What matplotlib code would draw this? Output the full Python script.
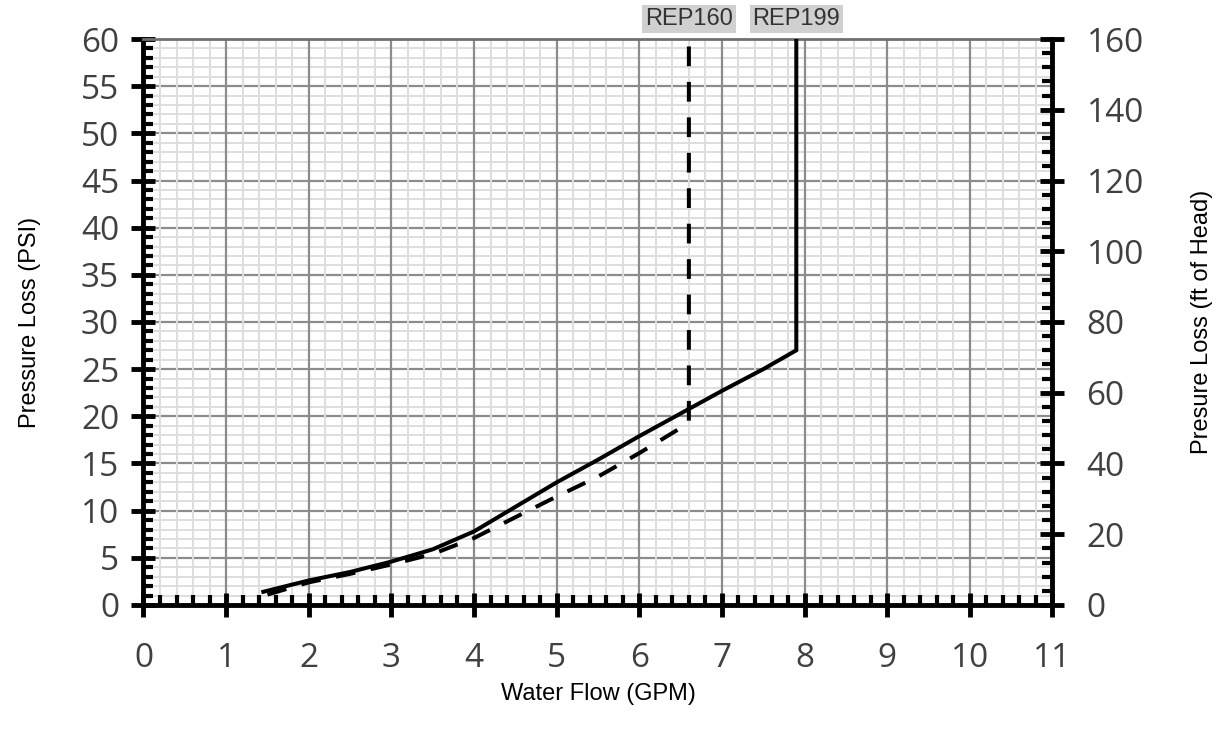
import matplotlib
matplotlib.use("Agg")
import matplotlib.pyplot as plt
from matplotlib.ticker import MultipleLocator

# REP199 (solid) and REP160 (dashed) pressure-loss curves
rep199_flow = [1.45, 2.0, 2.5, 3.0, 3.5, 4.0, 4.5, 5.0, 5.5, 6.0, 6.5, 7.0, 7.5, 7.9, 7.9]
rep199_psi = [1.4, 2.6, 3.5, 4.6, 5.9, 7.8, 10.4, 13.0, 15.4, 17.9, 20.3, 22.7, 25.0, 27.0, 60.0]

rep160_flow = [1.5, 2.0, 2.5, 3.0, 3.5, 4.0, 4.5, 5.0, 5.5, 6.0, 6.6, 6.6]
rep160_psi = [1.1, 2.4, 3.3, 4.3, 5.4, 7.1, 9.3, 11.5, 13.6, 16.1, 19.3, 60.0]

series_names = ["REP160", "REP199"]
series_label_x = [6.6, 7.9]

TICK_FONT = ["Open Sans", "DejaVu Sans"]
LABEL_FONT = ["Liberation Sans", "DejaVu Sans"]
TICK_COLOR = "#404040"

fig = plt.figure(figsize=(12.18, 7.29), dpi=100)
ax = fig.add_axes([0.1178, 0.1701, 0.7463, 0.7764])

ax.set_xlim(0, 11)
ax.set_ylim(0, 60)
ax.xaxis.set_major_locator(MultipleLocator(1))
ax.xaxis.set_minor_locator(MultipleLocator(0.2))
ax.yaxis.set_major_locator(MultipleLocator(5))
ax.yaxis.set_minor_locator(MultipleLocator(1))

# grid: vertical lines drawn above horizontal ones
ax.set_axisbelow(True)
ax.yaxis.set_zorder(0.4)
ax.xaxis.set_zorder(0.5)
ax.grid(which="major", color="#8c8c8c", lw=1.6)
ax.grid(which="minor", color="#dedede", lw=1.4)

ax.plot(rep199_flow, rep199_psi, color="black", lw=2.9, solid_joinstyle="miter", zorder=3)
ax.plot(rep160_flow, rep160_psi, color="black", lw=2.9, dashes=(4.9, 3.9), zorder=3)

for name, xv in zip(series_names, series_label_x):
    ax.text(xv, 1.016, name, transform=ax.get_xaxis_transform(), ha="center", va="bottom",
            fontsize=17, family=LABEL_FONT, color="#333333",
            bbox=dict(boxstyle="square,pad=0.12", facecolor="#d0d0d0", edgecolor="none"))

for side in ("left", "bottom"):
    ax.spines[side].set_linewidth(3.5)
    ax.spines[side].set_color("black")
ax.spines["right"].set_visible(False)
ax.spines["top"].set_color("#707070")
ax.spines["top"].set_linewidth(2)

ax.tick_params(which="major", direction="inout", length=17, width=3.5, color="black",
               labelsize=24, labelcolor=TICK_COLOR)
ax.tick_params(axis="x", which="major", pad=18)
ax.tick_params(axis="y", which="major", pad=9)
ax.tick_params(which="minor", direction="in", length=7, width=3, color="black")
for lab in ax.get_xticklabels() + ax.get_yticklabels():
    lab.set_family(TICK_FONT)

ax.set_xlabel("Water Flow (GPM)", fontsize=17, family=LABEL_FONT, va="center")
ax.xaxis.set_label_coords(0.5, -0.157)
ax.set_ylabel("Pressure Loss (PSI)", fontsize=17, family=LABEL_FONT, va="center")
ax.yaxis.set_label_coords(-0.125, 0.5)

ax2 = ax.twinx()
ax2.set_ylim(0, 160)
ax2.yaxis.set_major_locator(MultipleLocator(20))
ax2.yaxis.set_minor_locator(MultipleLocator(4))
for side in ("left", "top", "bottom"):
    ax2.spines[side].set_visible(False)
ax2.spines["right"].set_linewidth(3.5)
ax2.spines["right"].set_color("black")
ax2.tick_params(which="major", direction="inout", length=17, width=3.5, color="black",
                labelsize=24, labelcolor=TICK_COLOR, pad=16)
ax2.tick_params(which="minor", direction="in", length=7, width=3, color="black")
for lab in ax2.get_yticklabels():
    lab.set_family(TICK_FONT)
ax2.set_ylabel("Presure Loss (ft of Head)", fontsize=17, family=LABEL_FONT, va="center")
ax2.yaxis.set_label_coords(1.164, 0.5)

fig.savefig("out.png", dpi=100)
